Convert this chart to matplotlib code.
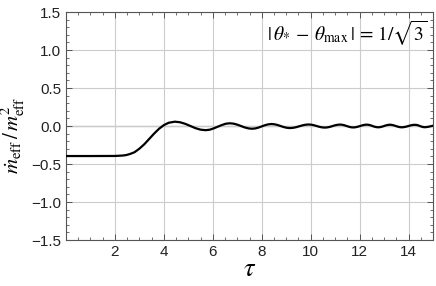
import matplotlib
matplotlib.use("Agg")
import matplotlib.pyplot as plt
from matplotlib.ticker import MultipleLocator

################################################################################
# values

tau_values: list[float] = [
    0.0, 1.0, 2.0, 2.3, 2.45, 2.6, 2.8, 3.0, 3.2, 3.4, 3.6, 3.8, 4.0, 4.2,
    4.45, 4.66, 4.87, 5.08, 5.28, 5.49,
    5.7, 5.87, 6.03, 6.2, 6.37, 6.53,
    6.7, 6.85, 7.0, 7.15, 7.3, 7.45,
    7.6, 7.73, 7.87, 8.0, 8.13, 8.27,
    8.4, 8.525, 8.65, 8.775, 8.9, 9.025,
    9.15, 9.28, 9.41, 9.535, 9.66, 9.79,
    9.92, 10.03, 10.14, 10.25, 10.36, 10.47,
    10.58, 10.68, 10.79, 10.89, 10.99, 11.10,
    11.2, 11.29, 11.38, 11.47, 11.56, 11.65,
    11.74, 11.83, 11.92, 12.015, 12.11, 12.2,
    12.29, 12.37, 12.45, 12.525, 12.6, 12.68,
    12.76, 12.84, 12.92, 13.0, 13.08, 13.16,
    13.24, 13.32, 13.4, 13.48, 13.56, 13.64,
    13.72, 13.81, 13.9, 13.99, 14.08, 14.17,
    14.26, 14.33, 14.40, 14.465, 14.53, 14.60,
    14.67, 14.78, 14.9, 15.0,
]
mdot_values: list[float] = [
    -0.395, -0.395, -0.394, -0.389, -0.383, -0.37, -0.345, -0.298, -0.24,
    -0.17, -0.10, -0.037, 0.012, 0.043,
    0.057, 0.0495, 0.029, 0.001, -0.027, -0.0475,
    -0.055, -0.049, -0.032, -0.0095, 0.013, 0.030,
    0.036, 0.031, 0.018, 0.0, -0.018, -0.031,
    -0.036, -0.032, -0.0205, -0.005, 0.0105, 0.022,
    0.026, 0.0225, 0.0128, -0.0005, -0.0138, -0.0234,
    -0.027, -0.0239, -0.0153, -0.0035, 0.0082, 0.0169,
    0.02, 0.0173, 0.0098, -0.0005, -0.0108, -0.0183,
    -0.021, -0.0183, -0.011, -0.001, 0.009, 0.0163,
    0.019, 0.0165, 0.0095, 0.0, -0.0095, -0.0165,
    -0.019, -0.0165, -0.0098, -0.0005, 0.0088, 0.0156,
    0.018, 0.0157, 0.0093, 0.0005, -0.0083, -0.0147,
    -0.017, -0.0147, -0.0085, 0.0, 0.0085, 0.0147,
    0.017, 0.0147, 0.0085, 0.0, -0.0085, -0.0147,
    -0.017, -0.0148, -0.0088, -0.0005, 0.0078, 0.0138,
    0.016, 0.0139, 0.008, 0.0, -0.008, -0.0139,
    -0.016, -0.012, -0.004, 0.004,
]

x_ticks: list[int] = [2, 4, 6, 8, 10, 12, 14]
y_ticks: list[float] = [-1.5, -1.0, -0.5, 0.0, 0.5, 1.0, 1.5]

################################################################################

plt.rcParams["mathtext.fontset"] = "stix"
plt.rcParams["font.family"] = "Liberation Sans"

fig = plt.figure(figsize=(4.36, 2.86), dpi=100)
ax = fig.add_axes([0.1514, 0.1608, 0.8417, 0.7972])

frame_color = "#555555"
for spine in ax.spines.values():
    spine.set_color(frame_color)
    spine.set_linewidth(0.8)

ax.grid(True, color="#cccccc", linewidth=0.8)
ax.axhline(y=0, color="#999999", linewidth=0.9, zorder=1.5)

ax.plot(tau_values, mdot_values, color="black", linewidth=1.6, zorder=3)

ax.set_xlim(0, 15)
ax.set_ylim(-1.5, 1.5)
ax.set_xticks(x_ticks)
ax.set_yticks(y_ticks)
ax.set_yticklabels([f"{v:.1f}".replace("-", "\u2212") for v in y_ticks])
ax.xaxis.set_minor_locator(MultipleLocator(0.5))
ax.yaxis.set_minor_locator(MultipleLocator(0.1))
ax.tick_params(which="both", direction="in", top=True, right=True,
               color=frame_color, labelsize=11, labelcolor="#222222")
ax.tick_params(which="major", length=4.5, width=0.7, pad=3.5)
ax.tick_params(which="minor", length=2.5, width=0.6)

ax.set_xlabel(r"$\tau$", fontsize=19)
ax.xaxis.set_label_coords(0.5, -0.075)
ax.set_ylabel(r"$\dot{m}_{\rm eff}\,/\,m_{\rm eff}^{2}$", fontsize=15)
ax.yaxis.set_label_coords(-0.105, 0.46)

ax.text(0.985, 0.905,
        r"$|\,\theta_{*}\,-\,\theta_{\rm max}\,|\,=\,1/\sqrt{3}$",
        transform=ax.transAxes, ha="right", va="center", fontsize=14)

fig.savefig("out.png", dpi=100)
